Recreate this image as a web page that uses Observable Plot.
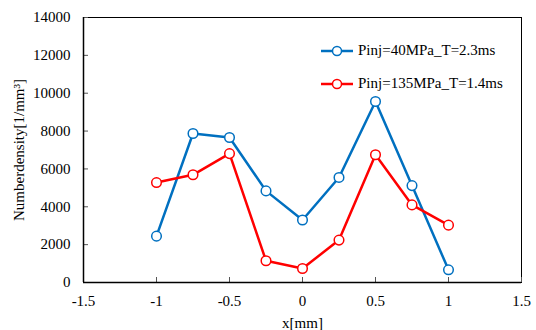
<!DOCTYPE html>
<html><head><meta charset="utf-8">
<script src="https://cdn.jsdelivr.net/npm/d3@7"></script>
<script src="https://cdn.jsdelivr.net/npm/@observablehq/plot@0.6"></script>
<style>
body{margin:0;background:#fff;font-family:"Liberation Serif","Times New Roman",serif;}
#wrap{position:relative;width:536px;height:330px;}
#chart svg, #chart svg text{font-family:"Liberation Serif","Times New Roman",serif !important;font-size:15px;}
#legend{position:absolute;left:320px;top:34px;font-size:15px;color:#000;}
.li{display:flex;align-items:center;height:33px;white-space:nowrap;}
.li svg{margin-right:4px;}
</style></head><body>
<div id="wrap"><div id="chart"></div><div id="legend"></div></div>
<script>
const xs = [-1, -0.75, -0.5, -0.25, 0, 0.25, 0.5, 0.75, 1];
const blueValues = [2450, 7870, 7660, 4840, 3300, 5550, 9560, 5120, 670];
const redValues = [5280, 5690, 6810, 1150, 740, 2240, 6750, 4100, 3030];
const seriesNames = ["Pinj=40MPa_T=2.3ms", "Pinj=135MPa_T=1.4ms"];
const seriesColors = ["#0070C0", "#FF0000"];
const xTicks = [-1.5, -1, -0.5, 0, 0.5, 1, 1.5];
const yTicks = [0, 2000, 4000, 6000, 8000, 10000, 12000, 14000];

const data = [];
[blueValues, redValues].forEach((vals, s) => vals.forEach((v, i) => data.push({x: xs[i], y: v, s: seriesNames[s]})));

const chart = Plot.plot({
  width: 536, height: 330,
  marginLeft: 83, marginRight: 15, marginTop: 17, marginBottom: 48,
  style: {fontFamily: "Liberation Serif, serif", fontSize: "15px", color: "#000", background: "#fff"},
  x: {domain: [-1.5, 1.5]},
  y: {domain: [0, 14000]},
  color: {domain: seriesNames, range: seriesColors},
  marks: [
    Plot.frame({stroke: "#000", strokeWidth: 1}),
    Plot.axisX({ticks: xTicks, tickSize: -5, tickPadding: 18, tickFormat: d => String(d), label: "x[mm]", labelAnchor: "center", labelArrow: "none", labelOffset: 45, stroke: "#555"}),
    Plot.axisY({ticks: yTicks, tickSize: -5, tickPadding: 18, tickFormat: d => String(d), label: "Numberdensity[1/mm³]", labelAnchor: "center", labelArrow: "none", labelOffset: 70, stroke: "#555"}),
    Plot.ruleX([-1.5], {stroke: "#000", strokeWidth: 1.5}),
    Plot.ruleY([0], {stroke: "#000", strokeWidth: 1.5}),
    Plot.line(data, {x: "x", y: "y", z: "s", stroke: "s", strokeWidth: 2.5}),
    Plot.dot(data, {x: "x", y: "y", stroke: "s", fill: "#fff", r: 4.8, strokeWidth: 1.5})
  ]
});
document.getElementById("chart").appendChild(chart);

const leg = document.getElementById("legend");
seriesNames.forEach((n, i) => {
  const d = document.createElement("div");
  d.className = "li";
  d.innerHTML = `<svg width="34" height="12"><line x1="1" x2="33" y1="6" y2="6" stroke="${seriesColors[i]}" stroke-width="2.5"/><circle cx="17" cy="6" r="4.5" fill="#fff" stroke="${seriesColors[i]}" stroke-width="1.5"/></svg><span>${n}</span>`;
  leg.appendChild(d);
});
</script>
</body></html>
